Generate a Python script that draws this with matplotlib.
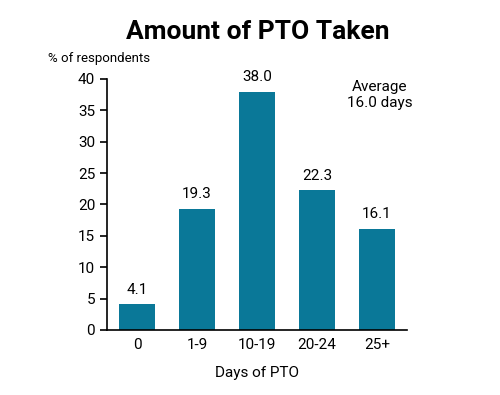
import matplotlib
matplotlib.use("Agg")
import matplotlib.pyplot as plt

plt.rcParams['font.family'] = ['Roboto', 'DejaVu Sans']

# data
categories = ["0", "1-9", "10-19", "20-24", "25+"]
values = [4.1, 19.3, 38.0, 22.3, 16.1]
bar_color = "#0a7898"

fig = plt.figure(figsize=(5, 3.95), dpi=100)
ax = fig.add_axes([0.214, 0.1646, 0.6, 0.6354])

x = range(len(categories))
ax.bar(x, values, width=0.6, color=bar_color)
for xi, v in zip(x, values):
    ax.text(xi, v + 1.2, f"{v:.1f}", ha="center", va="bottom", fontsize=11)

ax.set_xlim(-0.5, 4.5)
ax.set_ylim(0, 40)
ax.set_yticks(range(0, 41, 5))
ax.set_xticks(list(x))
ax.set_xticklabels(categories)
ax.tick_params(axis="y", labelsize=11, length=5, width=1.2, direction="out")
ax.tick_params(axis="x", labelsize=11, length=0, pad=6)
for s in ["top", "right"]:
    ax.spines[s].set_visible(False)
ax.spines["left"].set_linewidth(1.2)
ax.spines["bottom"].set_linewidth(1.2)

ax.set_xlabel("Days of PTO", fontsize=11, labelpad=10)
fig.text(0.096, 0.853, "% of respondents", fontsize=9.5, ha="left", va="center")
fig.suptitle("Amount of PTO Taken", fontsize=19, fontweight="bold", x=0.516, y=0.95)
ax.text(4.05, 37.5, "Average\n16.0 days", ha="center", va="center", fontsize=11, linespacing=1.2)

fig.savefig("out.png", dpi=100)
